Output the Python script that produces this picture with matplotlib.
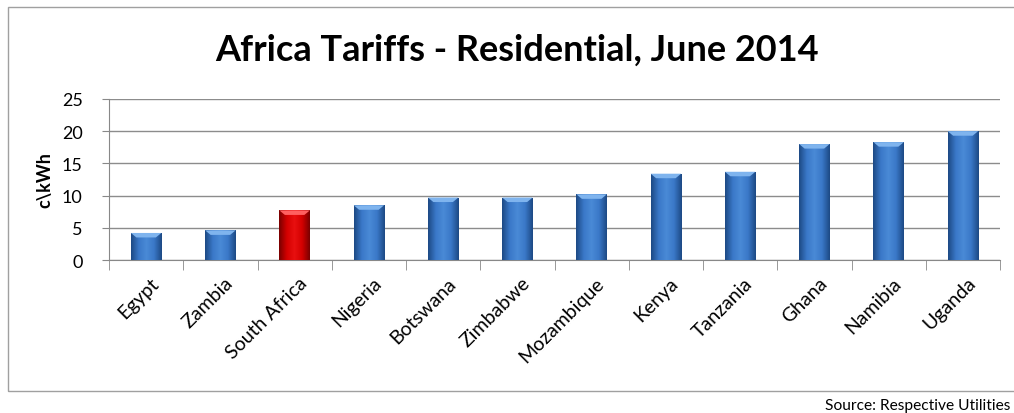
import matplotlib
matplotlib.use("Agg")
import matplotlib.pyplot as plt
import numpy as np
from matplotlib.patches import Rectangle
from matplotlib.colors import LinearSegmentedColormap

countries = ["Egypt", "Zambia", "South Africa", "Nigeria", "Botswana", "Zimbabwe",
             "Mozambique", "Kenya", "Tanzania", "Ghana", "Namibia", "Uganda"]
tariffs = [4.2, 4.6, 7.7, 8.5, 9.7, 9.7, 10.2, 13.4, 13.7, 18.0, 18.3, 20.0]
highlight = ["South Africa"]
yticks = [0, 5, 10, 15, 20, 25]

FONT = "Lato"
W, H = 1014, 414
fig = plt.figure(figsize=(W / 100, H / 100), dpi=100)
fig.patch.set_facecolor("white")
fig.patches.append(Rectangle((8 / W, 1 - 392 / H), 1.2, (392 - 8) / H, transform=fig.transFigure,
                             fill=False, edgecolor="#a0a0a0", linewidth=1.0))

ax = fig.add_axes([109 / W, 1 - 261 / H, (1000 - 109) / W, (261 - 100) / H])
x = np.arange(len(countries))
bars = ax.bar(x, tariffs, width=0.41, color="none", edgecolor="none", zorder=3)

blue = LinearSegmentedColormap.from_list("b", ["#1d4a85", "#3a78c8", "#4a8ad6", "#3a78c8", "#1d4a85"])
red = LinearSegmentedColormap.from_list("r", ["#7a0000", "#d40000", "#e81010", "#d40000", "#7a0000"])
grad = np.linspace(0, 1, 64).reshape(1, -1)
for b, name in zip(bars, countries):
    cmap = red if name in highlight else blue
    x0, w, h = b.get_x(), b.get_width(), b.get_height()
    im = ax.imshow(grad, cmap=cmap, aspect="auto", extent=[x0, x0 + w, 0, h], zorder=3)
    im.set_clip_path(b)
    top = "#ff6060" if name in highlight else "#7fb4ee"
    ax.fill([x0, x0 + w, x0 + w * 0.82, x0 + w * 0.18], [h, h, h - 0.7, h - 0.7],
            color=top, zorder=4, lw=0)

ax.set_xlim(-0.5, len(countries) - 0.5)
ax.set_ylim(0, 25)
ax.set_yticks(yticks)
ax.set_yticklabels([str(v) for v in yticks], fontsize=13, family=FONT)
ax.set_xticks(x + 0.05)
ax.set_xticklabels(countries, rotation=45, ha="right", rotation_mode="anchor",
                   fontsize=14, family=FONT)
ax.set_xticks(np.arange(-0.5, len(countries)), minor=True)
ax.tick_params(axis="x", which="major", length=0, pad=10)
ax.tick_params(axis="x", which="minor", length=7, color="#888888", direction="out")
ax.tick_params(axis="y", length=5, color="#888888", pad=14)
ax.grid(axis="y", color="#8c8c8c", linewidth=1.0, zorder=0)
ax.set_axisbelow(True)
for s in ["top", "right"]:
    ax.spines[s].set_visible(False)
for s in ["left", "bottom"]:
    ax.spines[s].set_color("#888888")
ax.set_ylabel("c\\kWh", fontsize=13, fontweight="bold", family=FONT)
ax.yaxis.set_label_coords((53 - 109) / (1000 - 109), 0.5)

fig.text(517 / W, 1 - 50 / H, "Africa Tariffs - Residential, June 2014", ha="center", va="center",
         fontsize=26, fontweight="bold", family=FONT)
fig.text(1010 / W, 1 - 406 / H, "Source: Respective Utilities", ha="right", va="center",
         fontsize=11.2, family=FONT)

fig.savefig("out.png", dpi=100)
